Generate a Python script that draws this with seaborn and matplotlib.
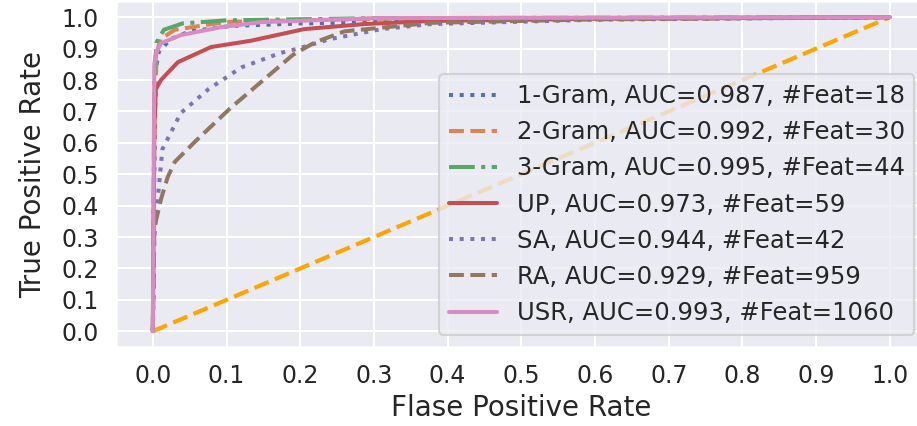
import pandas as pd
import seaborn as sns
import matplotlib
matplotlib.use('Agg')
import matplotlib.pyplot as plt

sns.set_theme(style='darkgrid', context='talk')

labels = [
    '1-Gram, AUC=0.987, #Feat=18',
    '2-Gram, AUC=0.992, #Feat=30',
    '3-Gram, AUC=0.995, #Feat=44',
    'UP, AUC=0.973, #Feat=59',
    'SA, AUC=0.944, #Feat=42',
    'RA, AUC=0.929, #Feat=959',
    'USR, AUC=0.993, #Feat=1060',
]

# ROC points
fpr_1gram = [0.0, 0.002, 0.004, 0.008, 0.024, 0.05, 0.106, 0.2, 0.38, 0.6, 1.0]
tpr_1gram = [0.0, 0.5, 0.83, 0.89, 0.93, 0.955, 0.972, 0.98, 0.988, 0.995, 1.0]

fpr_2gram = [0.0, 0.002, 0.005, 0.01, 0.03, 0.1, 0.3, 1.0]
tpr_2gram = [0.0, 0.6, 0.88, 0.93, 0.96, 0.985, 0.995, 1.0]

fpr_3gram = [0.0, 0.002, 0.005, 0.015, 0.04, 0.1, 0.3, 1.0]
tpr_3gram = [0.0, 0.8, 0.92, 0.96, 0.98, 0.99, 0.997, 1.0]

fpr_up = [0.0, 0.002, 0.004, 0.011, 0.034, 0.079, 0.133, 0.205, 0.286, 0.377, 0.6, 1.0]
tpr_up = [0.0, 0.65, 0.77, 0.80, 0.857, 0.905, 0.925, 0.962, 0.978, 0.988, 0.995, 1.0]

fpr_sa = [0.0, 0.002, 0.004, 0.007, 0.013, 0.038, 0.075, 0.12, 0.173, 0.197, 0.24, 0.31, 0.377, 0.6, 1.0]
tpr_sa = [0.0, 0.3, 0.36, 0.43, 0.58, 0.695, 0.77, 0.84, 0.886, 0.90, 0.93, 0.962, 0.978, 0.992, 1.0]

fpr_ra = [0.0, 0.002, 0.011, 0.02, 0.03, 0.06, 0.105, 0.15, 0.19, 0.22, 0.26, 0.377, 0.6, 1.0]
tpr_ra = [0.0, 0.33, 0.42, 0.49, 0.54, 0.61, 0.71, 0.80, 0.88, 0.92, 0.955, 0.982, 0.993, 1.0]

fpr_usr = [0.0, 0.002, 0.004, 0.011, 0.038, 0.092, 0.146, 0.3, 1.0]
tpr_usr = [0.0, 0.85, 0.886, 0.917, 0.943, 0.968, 0.984, 0.997, 1.0]

curves = [
    (fpr_1gram, tpr_1gram, ':'),
    (fpr_2gram, tpr_2gram, '--'),
    (fpr_3gram, tpr_3gram, '-.'),
    (fpr_up, tpr_up, '-'),
    (fpr_sa, tpr_sa, ':'),
    (fpr_ra, tpr_ra, '--'),
    (fpr_usr, tpr_usr, '-'),
]

pal = sns.color_palette('deep', n_colors=len(curves))

fig = plt.figure(figsize=(9.17, 4.26), dpi=100)
ax = fig.add_axes([0.1265, 0.1855, 0.884, 0.811])

ax.plot([0, 1], [0, 1], color='orange', linestyle='--', lw=3.0)

for (fpr, tpr, ls), lab, col in zip(curves, labels, pal):
    df = pd.DataFrame({'fpr': fpr, 'tpr': tpr})
    sns.lineplot(data=df, x='fpr', y='tpr', ax=ax, color=col, lw=2.9,
                 linestyle=ls, label=lab, estimator=None, sort=False)

ax.set_xticks([i / 10 for i in range(11)])
ax.set_yticks([i / 10 for i in range(11)])
ax.tick_params(labelsize=17)
ax.set_xlabel('Flase Positive Rate', fontsize=20)
ax.set_ylabel('True Positive Rate', fontsize=20, labelpad=10)
ax.legend(loc='lower right', fontsize=17.5)

fig.savefig('out.png', dpi=100)
